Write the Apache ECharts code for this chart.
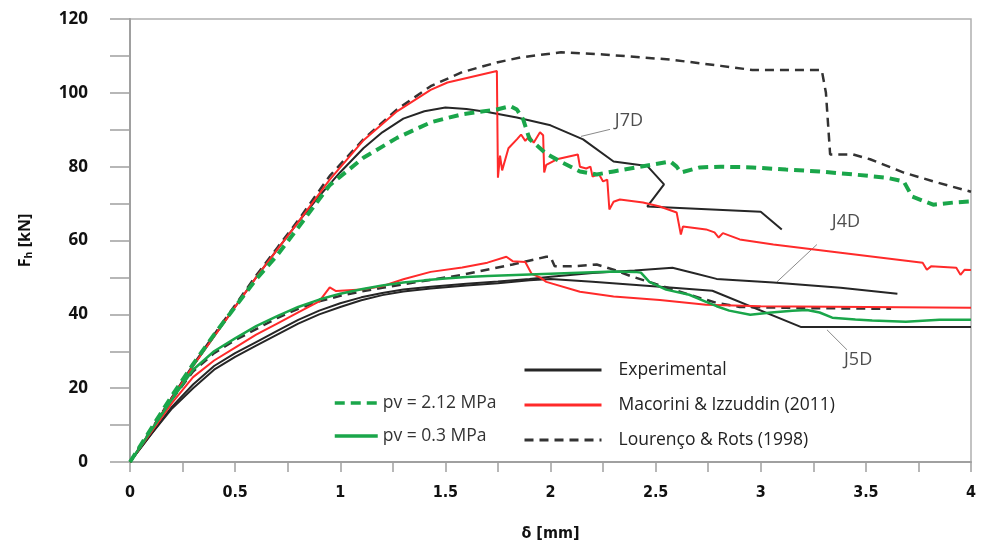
<!DOCTYPE html>
<html>
<head>
<meta charset="utf-8">
<script src="https://cdn.jsdelivr.net/npm/echarts@6/dist/echarts.min.js"></script>
<style>html,body{margin:0;padding:0;background:#fff}#c{width:981px;height:550px}</style>
</head>
<body>
<div id="c"></div>
<script>
// ---- tick labels ----
const xLabelValues = [0, 0.5, 1, 1.5, 2, 2.5, 3, 3.5, 4];
const yLabelValues = [0, 20, 40, 60, 80, 100, 120];

// ---- Experimental (black solid) ----
const expJ7D = [[0,0],[0.1,8.5],[0.2,17.5],[0.3,26],[0.4,34],[0.5,42],[0.6,50],[0.7,57.5],[0.8,65],[0.9,72],[1.0,78.5],[1.11,85],[1.2,89.3],[1.3,93],[1.4,95],[1.5,96],[1.6,95.6],[1.7,94.8],[1.84,93.3],[2.0,91.2],[2.155,87.4],[2.3,81.4],[2.46,80.2],[2.54,75.2],[2.46,69.2],[3.0,67.8],[3.1,63]];
const expJ4D = [[0,0],[0.1,7.5],[0.2,15],[0.3,21],[0.4,26],[0.5,29.5],[0.6,32.5],[0.7,35.5],[0.8,38.5],[0.9,41],[1.0,43],[1.1,44.6],[1.2,45.8],[1.3,46.7],[1.43,47.5],[1.6,48.3],[1.75,48.9],[1.9,49.6],[2.0,50.2],[2.2,51.2],[2.4,51.9],[2.58,52.6],[2.68,51.2],[2.79,49.6],[3.06,48.6],[3.38,47.2],[3.65,45.6]];
const expJ5D = [[0,0],[0.1,7.5],[0.2,14.5],[0.3,20],[0.4,25],[0.5,28.5],[0.6,31.5],[0.7,34.5],[0.8,37.5],[0.9,40],[1.0,42],[1.1,43.8],[1.2,45.2],[1.3,46.2],[1.43,47],[1.6,47.8],[1.75,48.4],[1.9,49.2],[2.0,49.6],[2.2,48.8],[2.52,47.5],[2.77,46.4],[3.19,36.6],[4.0,36.6]];

// ---- Macorini & Izzuddin (2011) (red) ----
const macJ7D = [[0,0],[0.1,8.5],[0.2,17.3],[0.3,26],[0.4,34],[0.5,42],[0.6,50],[0.7,57.5],[0.8,65],[0.95,76.5],[1.108,87],[1.27,95],[1.43,100.8],[1.51,102.8],[1.745,105.9],[1.75,77],[1.76,83],[1.77,79],[1.8,85],[1.84,87.4],[1.86,88.7],[1.88,87],[1.9,88.3],[1.92,86.5],[1.95,89.3],[1.965,88.5],[1.97,78.4],[1.98,80.5],[2.03,82],[2.13,83.3],[2.14,80],[2.17,79.5],[2.19,80],[2.2,77.3],[2.23,78],[2.25,76],[2.27,76.5],[2.28,68.4],[2.3,70.5],[2.33,71.1],[2.44,70.3],[2.52,69.2],[2.6,67.6],[2.62,61.6],[2.63,63.8],[2.74,63],[2.78,62.2],[2.8,60.8],[2.82,62],[2.9,60.3],[3.06,58.9],[3.38,56.7],[3.77,54],[3.79,52.1],[3.81,53],[3.93,52.6],[3.95,50.7],[3.97,52.1],[4.0,52]];
const macLow = [[0,0],[0.1,8],[0.2,16],[0.3,23],[0.4,27.5],[0.5,31],[0.6,34.5],[0.7,37.5],[0.8,40.5],[0.9,43.5],[0.95,47.3],[0.98,46.3],[1.1,46.7],[1.2,47.6],[1.3,49.5],[1.43,51.5],[1.58,52.7],[1.7,54],[1.79,55.6],[1.82,54.4],[1.88,54.2],[1.91,51],[1.95,50],[1.98,48.8],[2.14,46.1],[2.3,44.8],[2.52,43.9],[2.74,42.6],[3.0,42.2],[3.5,42],[4.0,41.8]];

// ---- Lourenço & Rots (1998) (black dashed) ----
const louJ7D = [[0,0],[0.1,8.7],[0.2,17.5],[0.3,26.2],[0.4,34.5],[0.5,42.5],[0.6,50.5],[0.7,58],[0.8,65.5],[0.95,77.5],[1.11,87.4],[1.27,95.5],[1.43,101.8],[1.58,105.6],[1.75,108.3],[1.86,109.6],[2.05,111],[2.25,110.4],[2.57,109],[2.81,107.3],[2.96,106.2],[3.29,106.2],[3.31,100],[3.33,83.3],[3.44,83.3],[3.52,82],[3.68,78.4],[3.84,75.7],[4.0,73.2]];
const louLow = [[0,0],[0.1,8.5],[0.2,17],[0.3,24.5],[0.4,29.5],[0.5,33],[0.6,36],[0.7,39],[0.8,41.5],[0.9,43.5],[1.0,45],[1.1,46.2],[1.2,47.2],[1.35,48.6],[1.58,50.7],[1.82,53.5],[1.98,55.6],[2.0,55.6],[2.02,53],[2.1,53],[2.22,53.5],[2.3,52.1],[2.38,50.4],[2.5,48.2],[2.66,45.3],[2.79,43.1],[2.9,42],[3.2,41.7],[3.62,41.5]];

// ---- green ----
const pv212 = [[0,0],[0.1,9],[0.2,18],[0.3,26.5],[0.4,34.5],[0.5,42],[0.6,49.5],[0.7,56],[0.8,63.5],[0.95,75],[1.11,82.4],[1.27,87.8],[1.43,92],[1.58,94.2],[1.745,95.5],[1.81,96.4],[1.84,95.5],[1.87,92.8],[1.9,87.5],[1.98,83.5],[2.06,81],[2.14,78.7],[2.22,77.9],[2.30,78.7],[2.41,79.8],[2.49,80.6],[2.57,81.4],[2.6,80],[2.62,78.4],[2.71,79.8],[2.81,80],[2.96,79.8],[3.12,79.2],[3.28,78.7],[3.44,77.9],[3.6,77],[3.68,76],[3.72,71.9],[3.82,69.7],[3.92,70.3],[4.0,70.6]];
const pv03 = [[0,0],[0.1,8.5],[0.2,17],[0.3,25],[0.4,30],[0.5,33.5],[0.6,36.8],[0.7,39.5],[0.8,42],[0.9,44],[1.0,45.6],[1.1,46.8],[1.2,47.8],[1.3,48.6],[1.4,49.2],[1.5,49.7],[1.6,50.1],[1.7,50.4],[1.8,50.6],[1.9,50.8],[2.0,51.0],[2.1,51.2],[2.2,51.4],[2.3,51.6],[2.4,51.5],[2.43,51.3],[2.47,48.8],[2.55,46.7],[2.66,45.3],[2.74,43.4],[2.79,42.2],[2.85,41],[2.95,39.9],[3.05,40.5],[3.15,41],[3.22,41.2],[3.28,40.5],[3.34,39.1],[3.45,38.6],[3.53,38.3],[3.69,38.0],[3.85,38.5],[4.0,38.5]];

// ---- annotations ----
const leaderJ7D = [[2.145,88.2],[2.283,90.1]];
const leaderJ4D = [[3.077,48.8],[3.267,58.9]];
const leaderJ5D = [[3.315,35.8],[3.41,30.4]];
const specimenLabels = [{name:'J7D', value:[2.373,92.3]},{name:'J4D', value:[3.405,65.1]},{name:'J5D', value:[3.463,27.7]}];

const NAME_EXP = 'Experimental';
const NAME_MAC = 'Macorini & Izzuddin (2011)';
const NAME_LOU = 'Lourenço & Rots (1998)';
const NAME_P1 = 'pv = 2.12 MPa';
const NAME_P2 = 'pv = 0.3 MPa';

function lineSeries(name, data, color, width, type, z) {
  return { name, type: 'line', data, symbol: 'none', showSymbol: false, smooth: false,
    lineStyle: { color, width, type }, itemStyle: { color }, z: z || 2, silent: true, animation: false };
}
function leader(data) {
  return { name: 'leader', type: 'line', data, symbol: 'none', lineStyle: { color: '#8a8a8a', width: 1 }, silent: true, animation: false, z: 1 };
}

const legendCommon = { orient: 'vertical', padding: 0, itemHeight: 14, selectedMode: false,
  itemStyle: { opacity: 0 } };

const chart = echarts.init(document.getElementById('c'));
chart.setOption({
  animation: false,
  backgroundColor: '#fff',
  grid: { left: 130, right: 10, top: 19, bottom: 88, show: true, borderColor: '#b0b0b0', borderWidth: 1.5 },
  legend: [
    Object.assign({}, legendCommon, { left: 333, top: 394, itemWidth: 43, itemGap: 15,
      data: [NAME_P1, NAME_P2], lineStyle: { width: 3.5 },
      textStyle: { fontFamily: 'Open Sans', fontSize: 17.5, color: '#333', padding: [0,0,0,0] } }),
    Object.assign({}, legendCommon, { left: 523, top: 361, itemWidth: 77, itemGap: 17,
      data: [NAME_EXP, NAME_MAC, NAME_LOU], lineStyle: { width: 3 },
      textStyle: { fontFamily: 'Open Sans', fontSize: 17.5, color: '#222', padding: [0,0,0,12] } })
  ],
  xAxis: {
    type: 'value', min: 0, max: 4, interval: 0.25,
    name: 'δ [mm]', nameLocation: 'middle', nameGap: 64,
    nameTextStyle: { fontFamily: 'DejaVu Sans Condensed', fontWeight: 'bold', fontSize: 16, color: '#111' },
    axisLine: { lineStyle: { color: '#a0a0a0', width: 2 } },
    axisTick: { show: true, length: 10, lineStyle: { color: '#a0a0a0', width: 1.5 } },
    axisLabel: { margin: 23, fontFamily: 'DejaVu Sans Condensed', fontWeight: 'bold', fontSize: 16, color: '#111',
      formatter: v => xLabelValues.some(t => Math.abs(t - v) < 1e-6) ? String(v) : '' },
    splitLine: { show: false }
  },
  yAxis: {
    type: 'value', min: 0, max: 120, interval: 10,
    name: '{a|F}{b|h}{a| [kN]}', nameLocation: 'middle', nameGap: 95, nameRotate: 90,
    nameTextStyle: { rich: {
      a: { fontFamily: 'Open Sans', fontWeight: 'bold', fontSize: 16, color: '#111' },
      b: { fontFamily: 'Open Sans', fontWeight: 'bold', fontSize: 10.5, color: '#111', padding: [8,0,0,0] } } },
    axisLine: { lineStyle: { color: '#a0a0a0', width: 2 } },
    axisTick: { show: true, length: 20, lineStyle: { color: '#a0a0a0', width: 1.5 } },
    axisLabel: { margin: 42, fontFamily: 'Open Sans', fontWeight: 'bold', fontSize: 17, color: '#111',
      formatter: v => yLabelValues.includes(Math.round(v)) && Math.abs(v - Math.round(v)) < 1e-6 ? String(v) : '' },
    splitLine: { show: false }
  },
  series: [
    leader(leaderJ7D), leader(leaderJ4D), leader(leaderJ5D),
    lineSeries(NAME_EXP, expJ7D, '#262626', 2, 'solid', 3),
    lineSeries(NAME_EXP, expJ4D, '#262626', 2, 'solid', 3),
    lineSeries(NAME_EXP, expJ5D, '#262626', 2, 'solid', 3),
    lineSeries(NAME_LOU, louJ7D, '#333333', 2.5, [9, 6], 3),
    lineSeries(NAME_LOU, louLow, '#333333', 2.5, [9, 6], 3),
    lineSeries(NAME_MAC, macJ7D, '#ff2a2a', 2, 'solid', 4),
    lineSeries(NAME_MAC, macLow, '#ff2a2a', 2, 'solid', 4),
    lineSeries(NAME_P1, pv212, '#1aa64a', 4, [10, 6], 5),
    lineSeries(NAME_P2, pv03, '#1aa64a', 2.5, 'solid', 5),
    { name: 'labels', type: 'scatter', data: specimenLabels, symbolSize: 1, itemStyle: { color: 'rgba(0,0,0,0)' },
      silent: true, z: 6,
      label: { show: true, position: 'inside', formatter: p => p.name, fontFamily: 'Open Sans', fontSize: 18, color: '#222' } }
  ]
});
</script>
</body>
</html>
